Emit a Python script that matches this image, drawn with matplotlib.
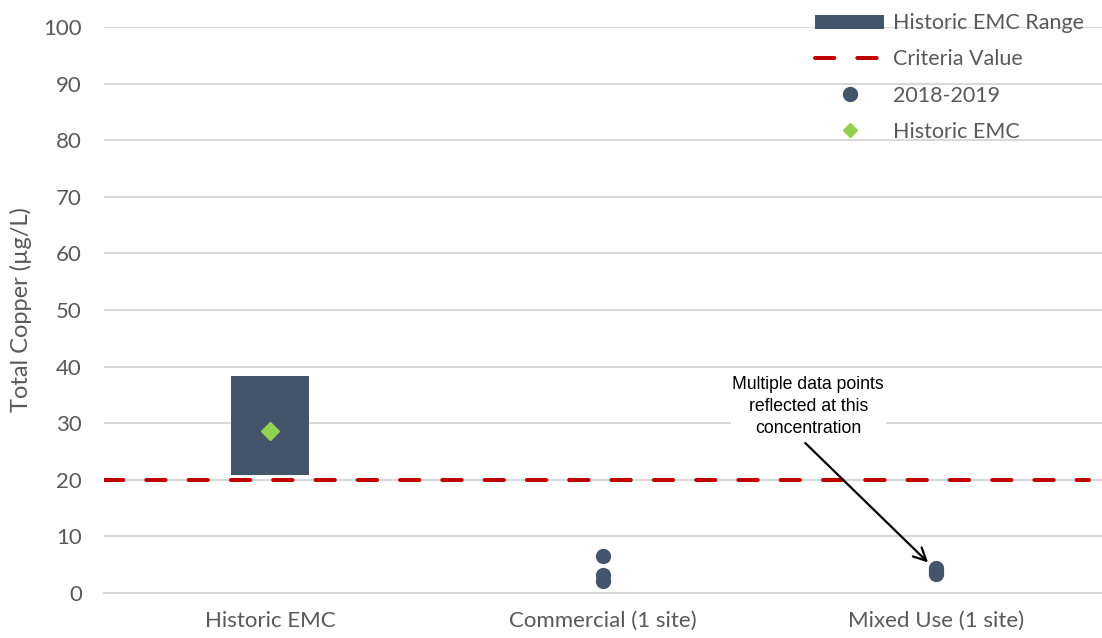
import matplotlib
matplotlib.use("Agg")
import matplotlib.pyplot as plt
from matplotlib.lines import Line2D
from matplotlib.patches import Patch

# Data
categories = ["Historic EMC", "Commercial (1 site)", "Mixed Use (1 site)"]
emc_range_low = 20.8
emc_range_high = 38.3
historic_emc = 28.6
criteria_value = 20
commercial_values = [6.5, 3.2, 2.1]
mixed_use_values = [4.4, 3.9, 3.4]
y_ticks = [0, 10, 20, 30, 40, 50, 60, 70, 80, 90, 100]

bar_color = "#44546A"
crit_color = "#C00000"
emc_color = "#92D050"
text_color = "#595959"
grid_color = "#D9D9D9"

plt.rcParams["font.family"] = ["Lato", "DejaVu Sans"]

fig = plt.figure(figsize=(11.02, 6.38), dpi=100)
ax = fig.add_axes([104 / 1102, (638 - 593) / 638, 1 - 104 / 1102, (593 - 27) / 638])

x = list(range(len(categories)))

# Historic range bar
ax.bar([x[0]], [emc_range_high - emc_range_low], bottom=[emc_range_low],
       width=0.234, color=bar_color, zorder=3)

# Criteria line
ax.axhline(criteria_value, color=crit_color, lw=2.9, dashes=(4.8, 5.7),
           dash_capstyle="round", zorder=2, xmax=0.987)

# Sample points
ax.plot([x[1]] * len(commercial_values), commercial_values, "o",
        color=bar_color, ms=10, zorder=4)
ax.plot([x[2]] * len(mixed_use_values), mixed_use_values, "o",
        color=bar_color, ms=10, zorder=4)

# Historic EMC marker
ax.plot([x[0]], [historic_emc], "D", color=emc_color, ms=9, zorder=5)

ax.set_xlim(-0.5, 2.5)
ax.set_ylim(0, 100)
ax.set_yticks(y_ticks)
ax.set_xticks(x)
ax.set_xticklabels(categories)
ax.yaxis.grid(True, color=grid_color, lw=1.5, zorder=0)
ax.set_axisbelow(True)
for s in ["top", "right", "left"]:
    ax.spines[s].set_visible(False)
ax.spines["bottom"].set_color(grid_color)
ax.spines["bottom"].set_linewidth(1.5)
ax.tick_params(axis="both", length=0, labelsize=16, colors=text_color)
ax.tick_params(axis="x", pad=13)
ax.tick_params(axis="y", pad=16)
ax.set_ylabel("Total Copper (µg/L)", fontsize=17, color=text_color, labelpad=8)

# Annotation: note text and arrow pointing to the overlapping points
ax.text(1.617, 33.0, "Multiple data points\nreflected at this\nconcentration",
        ha="center", va="center", fontsize=12.7,
        family=["Liberation Sans Narrow", "Liberation Sans", "DejaVu Sans"],
        color="black", linespacing=1.38,
        bbox=dict(boxstyle="square,pad=0.1", fc="white", ec="none"), zorder=6)
ax.annotate("", xy=(1.977, 5.4), xytext=(1.608, 26.5),
            arrowprops=dict(arrowstyle="->,head_length=0.9,head_width=0.45",
                            color="black", lw=1.6, shrinkA=0, shrinkB=0),
            zorder=6)

handles = [
    Patch(facecolor=bar_color, edgecolor="none"),
    Line2D([0], [0], color=crit_color, lw=2.9, dashes=(4.8, 5.7), dash_capstyle="round"),
    Line2D([0], [0], marker="o", color=bar_color, ls="none", ms=10),
    Line2D([0], [0], marker="D", color=emc_color, ls="none", ms=7),
]
labels = ["Historic EMC Range", "Criteria Value", "2018-2019", "Historic EMC"]
leg = ax.legend(handles, labels, loc="upper right", bbox_to_anchor=(1.001, 1.0585),
                frameon=False, fontsize=15.5, labelcolor=text_color,
                handlelength=3.2, handleheight=0.65, labelspacing=0.75,
                handletextpad=0.4)

fig.savefig("out.png", dpi=100)
